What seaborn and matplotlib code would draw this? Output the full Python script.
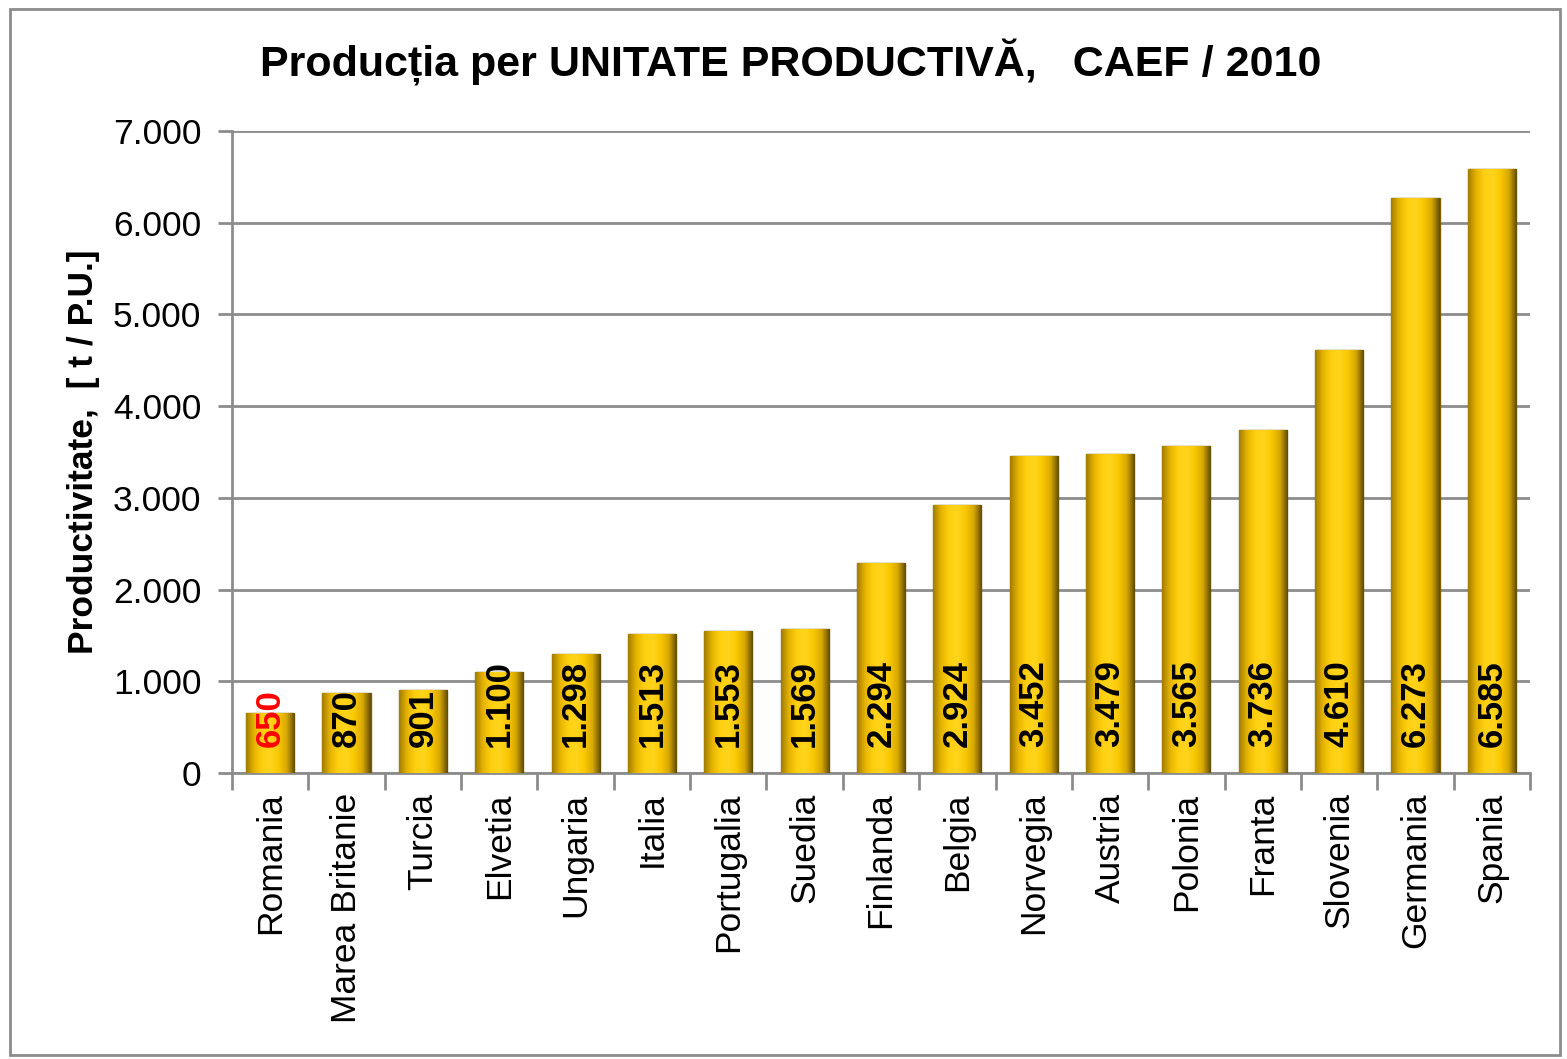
import numpy as np
import matplotlib
matplotlib.use("Agg")
import matplotlib.pyplot as plt
import seaborn as sns
from matplotlib.colors import LinearSegmentedColormap
from matplotlib.patches import Rectangle
from matplotlib.ticker import FuncFormatter, FixedLocator

countries = ["Romania", "Marea Britanie", "Turcia", "Elvetia", "Ungaria", "Italia",
             "Portugalia", "Suedia", "Finlanda", "Belgia", "Norvegia", "Austria",
             "Polonia", "Franta", "Slovenia", "Germania", "Spania"]
values = [650, 870, 901, 1100, 1298, 1513, 1553, 1569, 2294, 2924, 3452, 3479,
          3565, 3736, 4610, 6273, 6585]
label_colors = ["red"] + ["black"] * 16
title = "Producția per UNITATE PRODUCTIVĂ,   CAEF / 2010"
ylabel = "Productivitate,  [ t / P.U.]"

sns.set_theme(style="white")
plt.rcParams["font.family"] = ["Liberation Sans", "DejaVu Sans"]
plt.rcParams["text.color"] = "black"
plt.rcParams["axes.labelcolor"] = "black"

fig = plt.figure(figsize=(15.67, 10.59), dpi=100)
ax = fig.add_axes([232 / 1567, 1 - 773 / 1059, (1530 - 232) / 1567, (773 - 131) / 1059])

sns.barplot(x=countries, y=values, color="#F5C400", width=0.63, ax=ax,
            edgecolor="#7A6000", linewidth=1.0, saturation=1, zorder=3)

cmap = LinearSegmentedColormap.from_list(
    "gold", ["#A07C00", "#E6B400", "#FFD010", "#FFD41E", "#F9C800", "#D8A800", "#5E4A00"])
grad = np.linspace(0, 1, 256).reshape(1, -1)
for p in list(ax.patches):
    x0, y0 = p.get_x(), p.get_y()
    w, h = p.get_width(), p.get_height()
    im = ax.imshow(grad, extent=[x0, x0 + w, y0, y0 + h], aspect="auto", cmap=cmap,
                   zorder=3.5, interpolation="bicubic")
    im.set_clip_path(p)

for i, (v, c) in enumerate(zip(values, label_colors)):
    ax.text(i, 280, f"{v:,}".replace(",", "."), rotation=90, ha="center", va="bottom",
            fontsize=25, fontweight="bold", color=c, zorder=5)

ax.set_xlim(-0.5, len(countries) - 0.5)
ax.set_ylim(0, 7000)
ax.set_yticks(range(0, 7001, 1000))
ax.yaxis.set_major_formatter(FuncFormatter(lambda v, _: f"{int(v):,}".replace(",", ".")))
ax.yaxis.grid(True, color="#8C8C8C", linewidth=2, zorder=0)
ax.set_axisbelow(True)

ax.tick_params(axis="x", which="major", length=0, pad=14, labelsize=25.5, labelrotation=90,
               labelcolor="black")
ax.xaxis.set_minor_locator(FixedLocator(np.arange(-0.5, len(countries), 1.0)))
ax.tick_params(axis="x", which="minor", length=12, width=2, color="#8C8C8C", bottom=True)
ax.tick_params(axis="y", length=10, width=2, color="#8C8C8C", labelsize=25.5, pad=12,
               left=True, labelcolor="black")

for s in ["top", "right"]:
    ax.spines[s].set_visible(False)
for s in ["left", "bottom"]:
    ax.spines[s].set_color("#8C8C8C")
    ax.spines[s].set_linewidth(2)

ax.set_xlabel("")
ax.set_ylabel(ylabel, fontsize=25.5, fontweight="bold", labelpad=9, color="black")

fig.text(791 / 1567, 1 - 62 / 1059, title, ha="center", va="center",
         fontsize=31, fontweight="bold", color="black")

fig.patches.append(Rectangle((10 / 1567, 4 / 1059), 1550 / 1567, 1046 / 1059,
                             transform=fig.transFigure, fill=False,
                             edgecolor="#8C8C8C", linewidth=2))

fig.savefig("out.png", dpi=100)
